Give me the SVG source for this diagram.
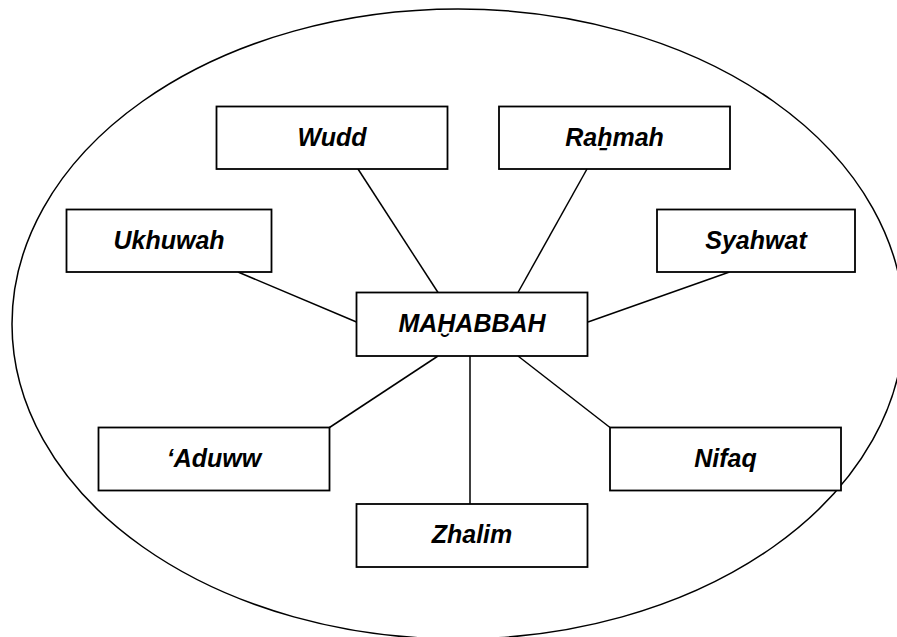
<svg xmlns="http://www.w3.org/2000/svg" width="897" height="637" viewBox="0 0 897 637">
<style>
.box{fill:#fff;stroke:#000;stroke-width:1.8}
.lbl{font-family:"Liberation Sans","DejaVu Sans",sans-serif;font-weight:bold;font-style:italic;font-size:25px;text-anchor:middle;fill:#000}
.con line{stroke:#000;stroke-width:1.5}
</style>
<rect width="897" height="637" fill="#fff"/>
<ellipse id="frame" cx="458" cy="324" rx="446" ry="315" fill="none" stroke="#000" stroke-width="1.5"/>
<g id="connectors" class="con">
<line x1="358" y1="169" x2="438" y2="292.5"/>
<line x1="587" y1="169" x2="518" y2="292.5"/>
<line x1="238" y1="272" x2="356.5" y2="322"/>
<line x1="729.5" y1="272" x2="588" y2="322"/>
<line x1="329.5" y1="427.5" x2="438" y2="356"/>
<line x1="470" y1="356" x2="470" y2="504"/>
<line x1="518" y1="356" x2="610" y2="427.5"/>
</g>
<g id="wudd"><rect class="box" x="216.5" y="106.5" width="231" height="62.5"/><text class="lbl" x="332" y="146">Wudd</text></g>
<g id="rahmah"><rect class="box" x="499" y="106.5" width="231" height="62.5"/><text class="lbl" x="614.5" y="146">Raẖmah</text></g>
<g id="ukhuwah"><rect class="box" x="66.5" y="209.5" width="205" height="62.5"/><text class="lbl" x="169" y="249">Ukhuwah</text></g>
<g id="syahwat"><rect class="box" x="657" y="209.5" width="198" height="62.5"/><text class="lbl" x="756" y="249">Syahwat</text></g>
<g id="mahabbah"><rect class="box" x="356.5" y="292.5" width="231" height="63.5"/><text class="lbl" x="472" y="332">MAḪABBAH</text></g>
<g id="aduww"><rect class="box" x="98.5" y="427.5" width="231" height="63"/><text class="lbl" x="214" y="467">‘Aduww</text></g>
<g id="nifaq"><rect class="box" x="610" y="427.5" width="231" height="63"/><text class="lbl" x="725.5" y="467">Nifaq</text></g>
<g id="zhalim"><rect class="box" x="356.5" y="504" width="231" height="63"/><text class="lbl" x="472" y="543">Zhalim</text></g>
</svg>
